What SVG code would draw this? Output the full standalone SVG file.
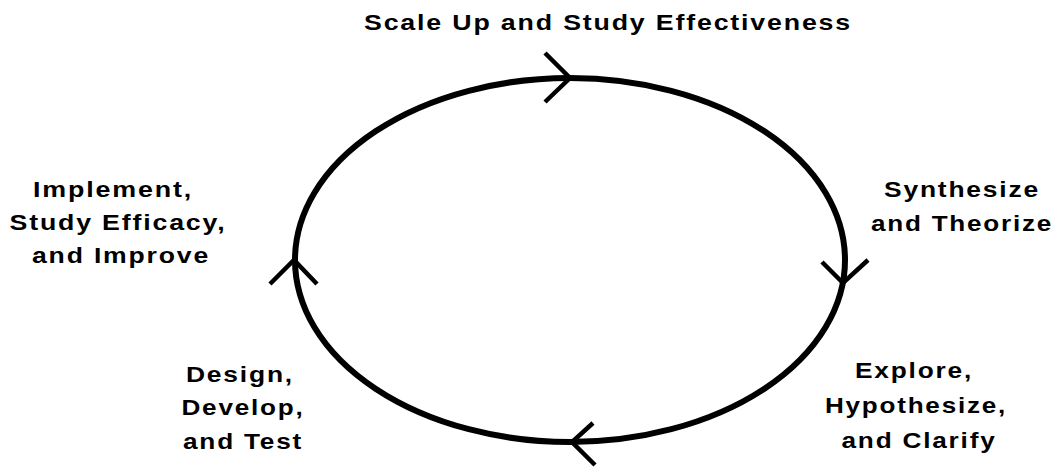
<svg xmlns="http://www.w3.org/2000/svg" width="1058" height="468" viewBox="0 0 1058 468">
<style>
.t{font-family:"Liberation Sans",Arial,sans-serif;font-weight:bold;font-size:22px;letter-spacing:1.5px;fill:#000;text-anchor:middle}
.c{fill:none;stroke:#000;stroke-width:6}
.a{fill:none;stroke:#000;stroke-width:4.5;stroke-linecap:butt}
</style>
<rect width="1058" height="468" fill="#fff"/>
<g id="connectors">
<ellipse class="c" cx="570" cy="260" rx="275" ry="182"/>
<polyline class="a" points="545,53 570,78 545,102"/>
<polyline class="a" points="822,262 843,283 868,260"/>
<polyline class="a" points="593,423 572,442 595,465"/>
<polyline class="a" points="270,284 294,260 317,284"/>
</g>
<g id="node-top"><text class="t" x="608" y="30" textLength="488" lengthAdjust="spacingAndGlyphs">Scale Up and Study Effectiveness</text></g>
<g id="node-right"><text class="t" x="962" y="197" textLength="156" lengthAdjust="spacingAndGlyphs">Synthesize</text><text class="t" x="962" y="231" textLength="182" lengthAdjust="spacingAndGlyphs">and Theorize</text></g>
<g id="node-bottom-right"><text class="t" x="914" y="378" textLength="118" lengthAdjust="spacingAndGlyphs">Explore,</text><text class="t" x="916" y="413" textLength="182" lengthAdjust="spacingAndGlyphs">Hypothesize,</text><text class="t" x="919" y="448" textLength="155" lengthAdjust="spacingAndGlyphs">and Clarify</text></g>
<g id="node-bottom-left"><text class="t" x="240" y="382" textLength="108" lengthAdjust="spacingAndGlyphs">Design,</text><text class="t" x="243" y="415" textLength="123" lengthAdjust="spacingAndGlyphs">Develop,</text><text class="t" x="243" y="449" textLength="120" lengthAdjust="spacingAndGlyphs">and Test</text></g>
<g id="node-left"><text class="t" x="113" y="197" textLength="160" lengthAdjust="spacingAndGlyphs">Implement,</text><text class="t" x="118" y="230" textLength="217" lengthAdjust="spacingAndGlyphs">Study Efficacy,</text><text class="t" x="121" y="263" textLength="178" lengthAdjust="spacingAndGlyphs">and Improve</text></g>
</svg>
